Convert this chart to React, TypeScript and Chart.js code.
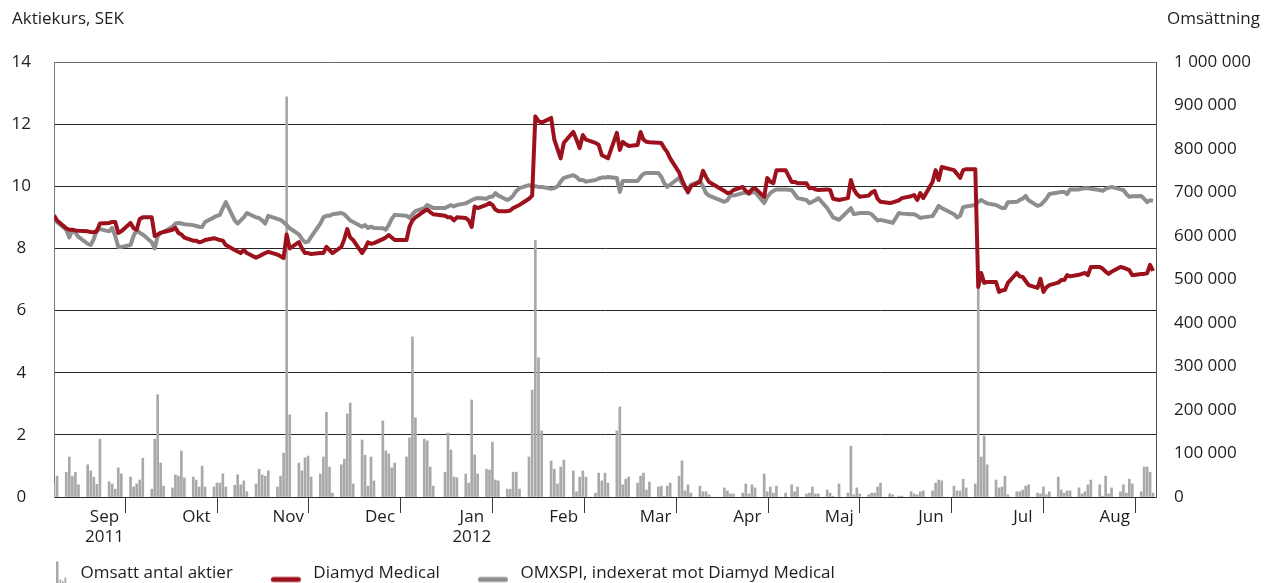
import React, { useEffect, useRef } from 'react';
import { Chart, registerables } from 'chart.js';

Chart.register(...registerables);

// ---------- categories ----------
const MONTHS = ['Sep', 'Okt', 'Nov', 'Dec', 'Jan', 'Feb', 'Mar', 'Apr', 'Maj', 'Jun', 'Jul', 'Aug'];
const YEAR_LABELS: Record<number, string> = { 0: '2011', 4: '2012' };
const DAYS_IN_MONTH = [30, 31, 30, 31, 31, 29, 31, 30, 31, 30, 31, 31];

const TRADING_DAYS = [
  [1, 2, 5, 6, 7, 8, 9, 12, 13, 14, 15, 16, 19, 20, 21, 22, 23, 26, 27, 28, 29, 30],
  [3, 4, 5, 6, 7, 10, 11, 12, 13, 14, 17, 18, 19, 20, 21, 24, 25, 26, 27, 28, 31],
  [1, 2, 3, 4, 7, 8, 9, 10, 11, 14, 15, 16, 17, 18, 21, 22, 23, 24, 25, 28, 29, 30],
  [1, 2, 5, 6, 7, 8, 9, 12, 13, 14, 15, 16, 19, 20, 21, 22, 23, 27, 28, 29, 30],
  [2, 3, 4, 5, 9, 10, 11, 12, 13, 16, 17, 18, 19, 20, 23, 24, 25, 26, 27, 30, 31],
  [1, 2, 3, 6, 7, 8, 9, 10, 13, 14, 15, 16, 17, 20, 21, 22, 23, 24, 27, 28, 29],
  [1, 2, 5, 6, 7, 8, 9, 12, 13, 14, 15, 16, 19, 20, 21, 22, 23, 26, 27, 28, 29, 30],
  [2, 3, 4, 5, 10, 11, 12, 13, 16, 17, 18, 19, 20, 23, 24, 25, 26, 27, 30],
  [2, 3, 4, 7, 8, 9, 10, 11, 14, 15, 16, 18, 21, 22, 23, 24, 25, 28, 29, 30, 31],
  [1, 4, 5, 7, 8, 11, 12, 13, 14, 15, 18, 19, 20, 21, 25, 26, 27, 28, 29],
  [2, 3, 4, 5, 6, 9, 10, 11, 12, 13, 16, 17, 18, 19, 20, 23, 24, 25, 26, 27, 30, 31],
  [1, 2, 3, 6, 7, 8, 9, 10, 13, 14, 15, 16, 17, 20, 21, 22, 23, 24, 27, 28, 29, 30, 31],
];

// ---------- series: Diamyd Medical (SEK) ----------
const DIAMYD = [
  [9.05, 8.9, 8.65, 8.6, 8.6, 8.58, 8.57, 8.55, 8.53, 8.52, 8.55, 8.8, 8.82, 8.85, 8.85, 8.5, 8.55, 8.82, 8.65, 8.6, 8.95, 9.0],
  [9.0, 8.4, 8.45, 8.5, 8.53, 8.6, 8.66, 8.5, 8.45, 8.35, 8.25, 8.25, 8.2, 8.22, 8.27, 8.33, 8.3, 8.27, 8.25, 8.11, 7.95],
  [7.9, 7.85, 7.95, 7.85, 7.7, 7.75, 7.8, 7.85, 7.89, 7.8, 7.75, 7.69, 8.45, 8.0, 8.2, 8.0, 7.85, 7.85, 7.82, 7.85, 7.85, 8.05],
  [7.95, 7.85, 8.05, 8.3, 8.62, 8.35, 8.27, 7.85, 8.0, 8.2, 8.15, 8.17, 8.3, 8.35, 8.43, 8.35, 8.27, 8.27, 8.7, 8.9, 9.0],
  [9.2, 9.25, 9.17, 9.1, 9.05, 9.0, 9.0, 8.9, 9.0, 8.98, 8.9, 8.69, 9.35, 9.3, 9.4, 9.46, 9.4, 9.25, 9.2, 9.2, 9.22],
  [9.3, 9.35, 9.4, 9.6, 9.7, 12.25, 12.1, 12.05, 12.2, 11.5, 11.2, 10.9, 11.4, 11.75, 11.5, 11.23, 11.65, 11.5, 11.4, 11.33, 11.0],
  [10.95, 10.9, 11.72, 11.17, 11.43, 11.35, 11.3, 11.33, 11.75, 11.5, 11.43, 11.42, 11.4, 11.39, 11.23, 11.1, 10.9, 10.45, 10.2, 10.0, 9.8, 10.0],
  [10.14, 10.5, 10.3, 10.14, 9.85, 9.78, 9.8, 9.88, 9.98, 9.85, 9.78, 9.9, 9.94, 9.66, 10.27, 10.15, 10.1, 10.52, 10.52],
  [10.14, 10.14, 10.1, 10.1, 9.94, 9.95, 9.9, 9.88, 9.9, 9.88, 9.6, 9.56, 9.62, 10.2, 9.9, 9.75, 9.66, 9.7, 9.8, 9.85, 9.6],
  [9.5, 9.46, 9.48, 9.55, 9.62, 9.68, 9.72, 9.56, 9.78, 9.62, 10.14, 10.52, 10.2, 10.62, 10.52, 10.4, 10.27, 10.52, 10.55],
  [10.55, 6.76, 7.21, 6.89, 6.92, 6.92, 6.6, 6.65, 6.66, 6.89, 7.21, 7.1, 7.08, 6.95, 6.82, 6.73, 7.02, 6.6, 6.75, 6.82, 6.9, 6.98],
  [6.98, 7.14, 7.1, 7.15, 7.18, 7.21, 7.14, 7.4, 7.4, 7.35, 7.25, 7.18, 7.25, 7.4, 7.38, 7.34, 7.3, 7.14, 7.18, 7.18, 7.2, 7.47, 7.28],
];

// ---------- series: OMXSPI indexed (SEK) ----------
const OMXSPI = [
  [9.08, 8.85, 8.6, 8.35, 8.6, 8.5, 8.37, 8.15, 8.11, 8.3, 8.6, 8.62, 8.55, 8.66, 8.4, 8.05, 8.05, 8.11, 8.4, 8.6, 8.5, 8.45],
  [8.2, 8.0, 8.4, 8.5, 8.53, 8.7, 8.8, 8.82, 8.8, 8.78, 8.75, 8.72, 8.7, 8.69, 8.85, 9.0, 9.05, 9.08, 9.3, 9.49, 8.9],
  [8.8, 8.9, 9.0, 9.14, 9.0, 8.98, 8.9, 8.8, 9.05, 8.95, 8.92, 8.85, 8.75, 8.65, 8.45, 8.3, 8.2, 8.22, 8.37, 8.8, 9.0, 9.05],
  [9.05, 9.1, 9.14, 9.1, 9.0, 8.9, 8.85, 8.7, 8.75, 8.66, 8.7, 8.66, 8.65, 8.6, 8.75, 8.95, 9.08, 9.05, 8.98, 9.1, 9.2],
  [9.3, 9.4, 9.35, 9.3, 9.3, 9.35, 9.4, 9.35, 9.4, 9.45, 9.5, 9.55, 9.6, 9.62, 9.6, 9.66, 9.66, 9.78, 9.7, 9.56, 9.6],
  [9.7, 9.85, 9.94, 10.04, 10.0, 10.0, 9.98, 9.98, 9.92, 9.94, 10.0, 10.15, 10.27, 10.36, 10.3, 10.2, 10.2, 10.15, 10.2, 10.25, 10.28],
  [10.28, 10.3, 10.27, 9.82, 10.17, 10.17, 10.17, 10.17, 10.3, 10.4, 10.43, 10.43, 10.43, 10.3, 10.1, 9.98, 10.05, 10.27, 10.1, 9.95, 9.88, 10.05],
  [10.17, 10.0, 9.78, 9.7, 9.5, 9.55, 9.72, 9.7, 9.78, 9.8, 9.75, 9.8, 9.82, 9.46, 9.65, 9.78, 9.85, 9.9, 9.9],
  [9.88, 9.75, 9.62, 9.56, 9.46, 9.5, 9.55, 9.62, 9.3, 9.15, 9.0, 8.92, 9.2, 9.3, 9.1, 9.12, 9.14, 9.14, 9.1, 9.0, 8.9],
  [8.92, 8.85, 8.82, 9.14, 9.12, 9.1, 9.1, 9.05, 8.98, 9.0, 9.04, 9.2, 9.37, 9.3, 9.1, 9.0, 9.05, 9.33, 9.35],
  [9.4, 9.5, 9.56, 9.5, 9.45, 9.4, 9.35, 9.3, 9.3, 9.49, 9.5, 9.56, 9.6, 9.69, 9.55, 9.37, 9.4, 9.49, 9.6, 9.75, 9.8, 9.82],
  [9.82, 9.75, 9.9, 9.9, 9.92, 9.94, 9.94, 9.92, 9.88, 9.85, 9.92, 9.95, 9.98, 9.9, 9.88, 9.75, 9.66, 9.68, 9.69, 9.6, 9.49, 9.55, 9.53],
];

// ---------- series: traded shares (thousands) ----------
const VOLUME_K = [
  [30, 48, 57, 92, 48, 57, 28, 74, 60, 46, 29, 133, 35, 30, 18, 67, 53, 46, 23, 30, 39, 89],
  [18, 133, 235, 78, 25, 21, 51, 48, 106, 44, 46, 39, 23, 71, 23, 23, 32, 32, 53, 23, 27],
  [51, 28, 37, 12, 30, 64, 51, 48, 60, 23, 48, 101, 920, 189, 78, 60, 90, 94, 46, 53, 92, 195],
  [69, 9, 74, 87, 191, 216, 30, 131, 96, 25, 92, 37, 175, 106, 99, 67, 78, 92, 136, 368, 182],
  [133, 129, 69, 25, 57, 147, 108, 46, 44, 53, 32, 223, 97, 53, 64, 62, 126, 39, 37, 18, 18],
  [57, 57, 18, 92, 246, 590, 320, 152, 83, 64, 30, 69, 85, 60, 12, 46, 60, 46, 9, 55, 37],
  [55, 32, 152, 207, 28, 41, 46, 32, 48, 55, 16, 34, 23, 25, 2, 25, 32, 48, 83, 14, 28, 9],
  [25, 12, 12, 5, 21, 14, 7, 7, 9, 30, 7, 28, 21, 53, 12, 23, 9, 25, 9],
  [28, 12, 23, 7, 9, 23, 7, 7, 16, 9, 2, 30, 9, 117, 5, 21, 7, 5, 9, 9, 23],
  [32, 7, 5, 2, 2, 12, 7, 5, 12, 14, 14, 32, 39, 37, 25, 14, 14, 41, 21],
  [30, 500, 92, 140, 74, 39, 21, 23, 48, 5, 12, 12, 16, 25, 28, 9, 7, 23, 5, 12, 46, 16],
  [9, 14, 14, 21, 7, 12, 28, 39, 28, 2, 48, 7, 21, 12, 28, 9, 41, 30, 12, 69, 69, 57, 9],
];

// ---------- axis ticks / texts ----------
const LEFT_TICKS = [0, 2, 4, 6, 8, 10, 12, 14];
const RIGHT_TICKS_K = [0, 100, 200, 300, 400, 500, 600, 700, 800, 900, 1000];
const LEFT_TITLE = 'Aktiekurs, SEK';
const RIGHT_TITLE = 'Omsättning';
const LEGEND_TEXTS = ['Omsatt antal aktier', 'Diamyd Medical', 'OMXSPI, indexerat mot Diamyd Medical'];

const RED = '#9c111c';
const GREY = '#8e8e8e';
const BAR = '#a9a9a9';
const TEXT = '#1e1e1e';
const FONT = "'Open Sans', sans-serif";

function seriesPoints(values: number[][]) {
  const pts: { x: number; y: number }[] = [];
  values.forEach((month, m) => {
    month.forEach((v, i) => {
      const d = TRADING_DAYS[m][i];
      pts.push({ x: m + (d - 1) / DAYS_IN_MONTH[m], y: v });
    });
  });
  return pts;
}

function fmtSpace(n: number) {
  return String(Math.round(n)).replace(/\B(?=(\d{3})+(?!\d))/g, ' ');
}

export default function App() {
  const ref = useRef<HTMLCanvasElement>(null);

  useEffect(() => {
    const canvas = ref.current;
    if (!canvas) return;

    const ICON_W = 57;
    const makeIcon = (draw: (g: CanvasRenderingContext2D) => void) => {
      const c = document.createElement('canvas');
      c.width = ICON_W;
      c.height = 26;
      const g = c.getContext('2d')!;
      draw(g);
      return c;
    };
    const barIcon = makeIcon((g) => {
      g.fillStyle = BAR;
      g.fillRect(41, 1, 2.5, 24);
      g.fillRect(44.5, 19, 1.8, 6);
      g.fillRect(47, 21, 1.8, 4);
      g.fillRect(49.5, 17, 1.8, 8);
      g.fillRect(41, 23.5, 10, 1.5);
    });
    const lineIcon = (color: string) =>
      makeIcon((g) => {
        g.strokeStyle = color;
        g.lineWidth = 5;
        g.lineCap = 'round';
        g.beginPath();
        g.moveTo(25.5, 19);
        g.lineTo(50.5, 19);
        g.stroke();
      });

    const titlesPlugin = {
      id: 'axisTitles',
      afterDraw(chart: any) {
        const { ctx } = chart;
        ctx.save();
        ctx.font = `17px ${FONT}`;
        ctx.fillStyle = TEXT;
        ctx.textBaseline = 'middle';
        ctx.textAlign = 'left';
        ctx.fillText(LEFT_TITLE, chart.scales.y.left + 12, 19);
        ctx.fillText(RIGHT_TITLE, chart.scales.yR.left + 11, 19);
        ctx.restore();
      },
    };

    const monthTicks: number[] = [];
    for (let m = 0; m <= 12; m++) {
      monthTicks.push(m);
      if (m < 12) monthTicks.push(m + 0.55);
    }

    const chart = new Chart(canvas, {
      type: 'bar',
      data: {
        datasets: [
          {
            type: 'line',
            label: LEGEND_TEXTS[1],
            data: seriesPoints(DIAMYD),
            borderColor: RED,
            borderWidth: 4,
            pointRadius: 0,
            tension: 0,
            borderJoinStyle: 'round',
            yAxisID: 'y',
            order: 0,
          },
          {
            type: 'line',
            label: LEGEND_TEXTS[2],
            data: seriesPoints(OMXSPI),
            borderColor: GREY,
            borderWidth: 4,
            pointRadius: 0,
            tension: 0,
            borderJoinStyle: 'round',
            yAxisID: 'y',
            order: 1,
          },
          {
            type: 'bar',
            label: LEGEND_TEXTS[0],
            data: seriesPoints(VOLUME_K),
            backgroundColor: BAR,
            barThickness: 2,
            yAxisID: 'yR',
            order: 2,
          },
        ] as any,
      },
      options: {
        animation: false,
        responsive: true,
        maintainAspectRatio: false,
        events: [],
        layout: { padding: { top: 62, left: 0, right: 0, bottom: 0 } },
        plugins: {
          tooltip: { enabled: false },
          title: { display: false },
          legend: {
            display: true,
            position: 'bottom',
            align: 'start',
            onClick: () => {},
            labels: {
              usePointStyle: true,
              pointStyleWidth: ICON_W,
              padding: 15,
              color: TEXT,
              font: { family: FONT, size: 17 },
              generateLabels: () => [
                { text: LEGEND_TEXTS[0], pointStyle: barIcon, fillStyle: 'rgba(0,0,0,0)', strokeStyle: 'rgba(0,0,0,0)', lineWidth: 0, hidden: false, datasetIndex: 2, fontColor: TEXT },
                { text: LEGEND_TEXTS[1], pointStyle: lineIcon(RED), fillStyle: 'rgba(0,0,0,0)', strokeStyle: 'rgba(0,0,0,0)', lineWidth: 0, hidden: false, datasetIndex: 0, fontColor: TEXT },
                { text: LEGEND_TEXTS[2], pointStyle: lineIcon(GREY), fillStyle: 'rgba(0,0,0,0)', strokeStyle: 'rgba(0,0,0,0)', lineWidth: 0, hidden: false, datasetIndex: 1, fontColor: TEXT },
              ] as any,
            },
          },
        },
        scales: {
          x: {
            type: 'linear',
            position: 'bottom',
            min: 0,
            max: 12,
            offset: false,
            afterBuildTicks: (scale: any) => {
              scale.ticks = monthTicks.map((v) => ({ value: v }));
            },
            afterFit: (scale: any) => {
              scale.height = 53;
            },
            grid: {
              drawOnChartArea: false,
              drawTicks: true,
              tickLength: 16,
              tickWidth: 1,
              tickColor: (ctx: any) =>
                ctx.tick && Math.abs(ctx.tick.value - Math.round(ctx.tick.value)) < 1e-6 ? '#3a3a3a' : 'rgba(0,0,0,0)',
            },
            border: { display: true, color: '#2a2a2a', width: 1 },
            ticks: {
              autoSkip: false,
              maxRotation: 0,
              minRotation: 0,
              padding: -6,
              color: TEXT,
              font: { family: FONT, size: 17, lineHeight: '20px' } as any,
              callback: (value: any) => {
                const v = Number(value);
                if (Math.abs(v - Math.round(v)) < 1e-6) return '';
                const m = Math.floor(v);
                return YEAR_LABELS[m] ? [MONTHS[m], YEAR_LABELS[m]] : MONTHS[m];
              },
            },
          },
          y: {
            type: 'linear',
            position: 'left',
            min: 0,
            max: 14,
            afterBuildTicks: (scale: any) => {
              scale.ticks = LEFT_TICKS.map((v) => ({ value: v }));
            },
            afterFit: (scale: any) => {
              scale.width = 54;
            },
            grid: {
              drawTicks: false,
              color: (ctx: any) => (ctx.tick && ctx.tick.value === 14 ? '#6a6a6a' : '#262626'),
              lineWidth: 1,
            },
            border: { display: true, color: '#7a7a7a', width: 1 },
            ticks: {
              padding: 23,
              crossAlign: 'center',
              color: TEXT,
              font: { family: FONT, size: 17 },
              callback: (value: any) => String(value),
            },
          },
          yR: {
            type: 'linear',
            position: 'right',
            min: 0,
            max: 1000,
            afterBuildTicks: (scale: any) => {
              scale.ticks = RIGHT_TICKS_K.map((v) => ({ value: v }));
            },
            afterFit: (scale: any) => {
              scale.width = 109;
            },
            grid: { drawOnChartArea: false, drawTicks: false },
            border: { display: true, color: '#555', width: 1 },
            ticks: {
              padding: 18,
              color: TEXT,
              font: { family: FONT, size: 17 },
              callback: (value: any) => fmtSpace(Number(value) * 1000),
            },
          },
        },
      } as any,
      plugins: [titlesPlugin],
    });

    return () => chart.destroy();
  }, []);

  return (
    <div style={{ position: 'fixed', left: 0, top: 0, width: 1265, height: 592 }}>
      <canvas ref={ref} />
    </div>
  );
}
